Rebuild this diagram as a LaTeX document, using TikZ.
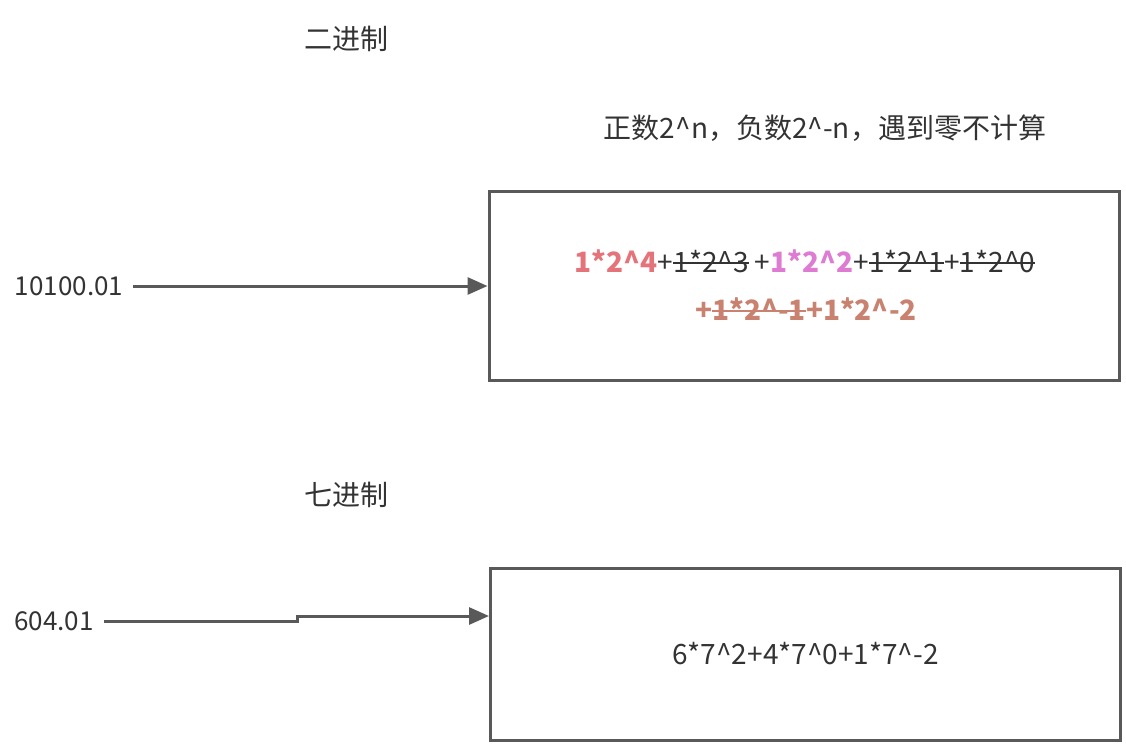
\documentclass[tikz,border=0pt]{standalone}
\usepackage{fontspec}
\setmainfont{Noto Sans CJK SC}
\usetikzlibrary{arrows.meta}
\definecolor{edgegray}{HTML}{595959}
\definecolor{termred}{HTML}{E5737A}
\definecolor{termpink}{HTML}{DE7BD3}
\definecolor{termbrown}{HTML}{C8826F}
\newsavebox{\cutbox}
\newcommand{\cut}[1]{\sbox{\cutbox}{#1}\rlap{\rule[0.3em]{\wd\cutbox}{1.8pt}}\usebox{\cutbox}}
\begin{document}
\begin{tikzpicture}[x=1pt, y=-1pt, every node/.style={align=center, font=\fontsize{28pt}{34pt}\selectfont, text=black!80}]
\tikzset{
  calcbox/.style={draw=edgegray, line width=3pt, minimum width=630pt, minimum height=189pt},
  numlabel/.style={inner sep=4pt, font=\fontsize{26pt}{32pt}\selectfont},
  feed/.style={-{Triangle[length=20pt, width=17pt]}, draw=edgegray, line width=3pt, shorten <=6pt}
}
\useasboundingbox (0,0) rectangle (1126,744);
\node (binTitle) at (346,39) {二进制};
\node (rule) at (825,128) {正数2\^{}n，负数2\^{}-n，遇到零不计算};
\node[calcbox] (binBox) at (804,285.5) {};
\node (binTermsA) at (805,261) {\textbf{\color{termred}1*2\^{}4}+\cut{1*2\^{}3} +\textbf{\color{termpink}1*2\^{}2}+\cut{1*2\^{}1}+\cut{1*2\^{}0}};
\node (binTermsB) at (806,309) {\color{termbrown}\textbf{+\cut{1*2\^{}-1}+1*2\^{}-2}};
\node[numlabel] (binNum) at (69,286) {10100.01};

\node (sevTitle) at (346,495) {七进制};
\node[calcbox, minimum height=172pt] (sevBox) at (805.5,654) {6*7\^{}2+4*7\^{}0+1*7\^{}-2};
\node[numlabel] (sevNum) at (54,621) {604.01};
\coordinate (sevBend) at (297,621);

\draw[feed] (binNum.east) -- (binNum.east -| binBox.west);
\draw[feed] (sevNum.east) -- (sevBend) -- ++(0,-5) -- ([yshift=38pt]sevBox.west);
\end{tikzpicture}
\end{document}
